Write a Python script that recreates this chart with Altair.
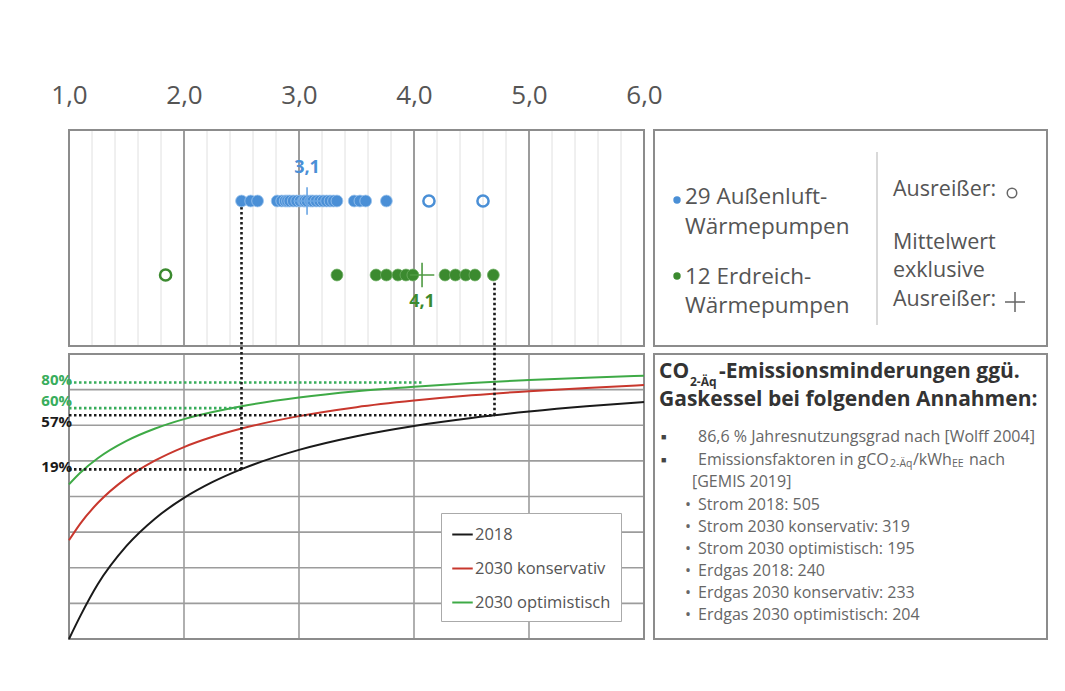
import altair as alt
import pandas as pd

# ---------------- data ----------------
cop_ticks = [1.0, 2.0, 3.0, 4.0, 5.0, 6.0]
inner_ticks = [2.0, 3.0, 4.0, 5.0]
minor_ticks = [1.2, 1.4, 1.6, 1.8, 2.2, 2.4, 2.6, 2.8, 3.2, 3.4, 3.6, 3.8,
               4.2, 4.4, 4.6, 4.8, 5.2, 5.4, 5.6, 5.8]
pct_grid = [-75, -50, -25, 0, 25, 50, 75]

air_cop = [2.50, 2.58, 2.64, 2.81, 2.85, 2.88, 2.90, 2.92, 2.95, 2.98, 3.01, 3.04,
           3.05, 3.07, 3.10, 3.12, 3.15, 3.18, 3.21, 3.24, 3.27, 3.30, 3.33,
           3.48, 3.53, 3.58, 3.76]
air_outliers = [4.13, 4.60]
ground_cop = [3.33, 3.67, 3.76, 3.86, 3.93, 3.99, 4.27, 4.36, 4.45, 4.53, 4.69]
ground_outliers = [1.84]
mean_cop = [3.07, 4.07]
mean_labels = ["3,1", "4,1"]

curve_cop = [1.0, 1.1, 1.25, 1.5, 1.75, 2.0, 2.25, 2.5, 3.0, 3.5, 4.0, 4.5, 5.0, 5.5, 6.0]
curve_2018 = [-100.0, -83.6, -61.6, -34.7, -15.4, -1.0, 10.2, 19.2, 32.7, 42.3, 49.5,
              55.1, 59.6, 63.3, 66.3]
curve_2030k = [-30.7, -18.8, -4.6, 12.9, 25.3, 34.7, 41.9, 47.7, 56.4, 62.7, 67.3,
               71.0, 73.9, 76.2, 78.2]
curve_2030o = [8.5, 16.8, 26.8, 39.0, 47.7, 54.3, 59.3, 63.4, 69.5, 73.9, 77.1,
               79.7, 81.7, 83.4, 84.8]
series_names = ["2018", "2030 konservativ", "2030 optimistisch"]

level_pct = [80, 62, 57, 19]
level_cop = [4.07, 2.50, 4.70, 2.50]
level_labels = ["80%", "60%", "57%", "19%"]
link_cop = [2.50, 4.70]
link_pct = [19, 57]

legend_left_lines = ["29 Außenluft-", "Wärmepumpen", "12 Erdreich-", "Wärmepumpen"]
legend_right_lines = ["Ausreißer:", "Mittelwert", "exklusive", "Ausreißer:"]
title_line2 = "Gaskessel bei folgenden Annahmen:"
bullet1 = "86,6 % Jahresnutzungsgrad nach [Wolff 2004]"
bullet2_parts = ["Emissionsfaktoren in gCO", "2-Äq", "/kWh", "EE", "nach"]
bullet2_cont = "[GEMIS 2019]"
factor_lines = ["Strom 2018: 505", "Strom 2030 konservativ: 319",
                "Strom 2030 optimistisch: 195", "Erdgas 2018: 240",
                "Erdgas 2030 konservativ: 233", "Erdgas 2030 optimistisch: 204"]

# ---------------- styles ----------------
FONT = "Open Sans"
BLUE = "#4a8fd6"
BLUE_MEAN = "#6aa6e4"
GREEN_PT = "#3b8a2f"
GREEN_MEAN = "#4f9a43"
GREEN_LINE = "#3eaa46"
GREEN_LBL = "#38ad5c"
RED = "#c8372d"
BLACK = "#1a1a1a"
GRID = "#9c9c9c"
MINOR = "#e0e0e0"
FRAME = "#8c8c8c"
TXT = "#555555"

W_LEFT, H_ALL = 575, 509
W_RIGHT, H_TOP, H_BOT, GAP = 393, 216, 285, 8

# unified y coordinate: bottom panel is -100..100 %, top panel sits above
PX_PER_UNIT = H_BOT / 200.0
TOP_LO = 100 + GAP / PX_PER_UNIT
TOP_HI = TOP_LO + H_TOP / PX_PER_UNIT
ROW_AIR = TOP_LO + 145 / PX_PER_UNIT
ROW_GROUND = TOP_LO + 71 / PX_PER_UNIT
LBL_AIR = TOP_LO + 178 / PX_PER_UNIT
LBL_GROUND = TOP_LO + 44 / PX_PER_UNIT

xscale = alt.Scale(domain=[1, 6], nice=False, zero=False)
yscale = alt.Scale(domain=[-100, TOP_HI], nice=False, zero=False)
xaxis = alt.Axis(orient="top", values=cop_ticks,
                 labelExpr="replace(format(datum.value, '.1f'), '.', ',')",
                 labelFontSize=26, labelColor=TXT, labelFont=FONT,
                 domain=False, ticks=False, grid=False, labelPadding=22,
                 labelFlush=False, title=None)


def X(f):
    return alt.X(f, type="quantitative", scale=xscale, axis=xaxis)


def Y(f):
    return alt.Y(f, type="quantitative", scale=yscale, axis=None)


# ---------------- left chart ----------------
minor_df = pd.DataFrame({"x": minor_ticks, "y": TOP_LO, "y2": TOP_HI})
major_top_df = pd.DataFrame({"x": inner_ticks, "y": TOP_LO, "y2": TOP_HI})
major_bot_df = pd.DataFrame({"x": inner_ticks, "y": -100.0, "y2": 100.0})
hgrid_df = pd.DataFrame({"y": pct_grid, "x": 1.0, "x2": 6.0})
frames_df = pd.DataFrame({"x": [1.0, 1.0], "x2": [6.0, 6.0],
                          "y": [TOP_LO, -100.0], "y2": [TOP_HI, 100.0]})

minor = alt.Chart(minor_df).mark_rule(color=MINOR, strokeWidth=1).encode(
    x=X("x"), y=Y("y"), y2="y2")
major_top = alt.Chart(major_top_df).mark_rule(color=GRID, strokeWidth=2).encode(
    x=X("x"), y=Y("y"), y2="y2")
major_bot = alt.Chart(major_bot_df).mark_rule(color=GRID, strokeWidth=1.6).encode(
    x=X("x"), y=Y("y"), y2="y2")
hgrid = alt.Chart(hgrid_df).mark_rule(color=GRID, strokeWidth=1.6).encode(
    x=X("x"), x2="x2", y=Y("y"))
frames = alt.Chart(frames_df).mark_rect(filled=False, stroke=FRAME, strokeWidth=2).encode(
    x=X("x"), x2="x2", y=Y("y"), y2="y2")

curve_rows = []
for name, vals in zip(series_names, [curve_2018, curve_2030k, curve_2030o]):
    for c, v in zip(curve_cop, vals):
        curve_rows.append({"cop": c, "pct": v, "series": name})
curve_df = pd.DataFrame(curve_rows)

curves = alt.Chart(curve_df).mark_line(strokeWidth=2, interpolate="monotone").encode(
    x=X("cop"),
    y=Y("pct"),
    color=alt.Color("series:N",
                    scale=alt.Scale(domain=series_names, range=[BLACK, RED, GREEN_LINE]),
                    legend=alt.Legend(title=None, orient="none", legendX=372, legendY=383,
                                      symbolType="stroke", symbolSize=420,
                                      symbolStrokeWidth=2, labelFontSize=16.5,
                                      labelColor=TXT, labelFont=FONT, fillColor="white",
                                      strokeColor="#aaaaaa", padding=10, rowPadding=14,
                                      labelOffset=1, labelLimit=300)),
    order="cop:Q",
)

lev_df = pd.DataFrame({"x": 1.0, "x2": level_cop, "y": level_pct, "label": level_labels,
                       "col": [GREEN_LBL, GREEN_LBL, BLACK, BLACK]})
lev_lines = []
lev_texts = []
label_dy = [-3, -7, 7, -2]
for i in range(len(level_labels)):
    sub = lev_df.iloc[[i]]
    col = sub["col"].iloc[0]
    lev_lines.append(alt.Chart(sub).mark_rule(
        color=col, strokeWidth=2.6, strokeDash=[2.5, 2.5]).encode(
        x=X("x"), x2="x2", y=Y("y")))
    lev_texts.append(alt.Chart(sub).mark_text(
        align="right", baseline="middle", dx=3, dy=label_dy[i], font=FONT, fontSize=15,
        fontWeight="bold", color=col).encode(x=X("x"), y=Y("y"), text="label:N"))

link_df = pd.DataFrame({"x": link_cop, "y": link_pct, "y2": [ROW_AIR, ROW_GROUND]})
links = alt.Chart(link_df).mark_rule(color=BLACK, strokeWidth=2.6,
                                     strokeDash=[2.5, 2.5]).encode(
    x=X("x"), y=Y("y"), y2="y2")

air_df = pd.DataFrame({"cop": air_cop, "row": ROW_AIR})
air_out_df = pd.DataFrame({"cop": air_outliers, "row": ROW_AIR})
gr_df = pd.DataFrame({"cop": ground_cop, "row": ROW_GROUND})
gr_out_df = pd.DataFrame({"cop": ground_outliers, "row": ROW_GROUND})

air_pts = alt.Chart(air_df).mark_circle(size=140, color=BLUE, opacity=1,
                                        stroke="#9cc4ee", strokeWidth=0.8).encode(
    x=X("cop"), y=Y("row"))
air_out = alt.Chart(air_out_df).mark_point(shape="circle", filled=False, size=125,
                                           strokeWidth=2.5, color=BLUE, opacity=1).encode(
    x=X("cop"), y=Y("row"))
gr_pts = alt.Chart(gr_df).mark_circle(size=140, color=GREEN_PT, opacity=1,
                                      stroke="#6fae63", strokeWidth=0.8).encode(
    x=X("cop"), y=Y("row"))
gr_out = alt.Chart(gr_out_df).mark_point(shape="circle", filled=False, size=125,
                                         strokeWidth=2.5, color=GREEN_PT, opacity=1).encode(
    x=X("cop"), y=Y("row"))

PLUS = "M-1,0L1,0M0,-1L0,1"
mean_df = pd.DataFrame({"cop": mean_cop, "row": [ROW_AIR, ROW_GROUND],
                        "lrow": [LBL_AIR, LBL_GROUND], "label": mean_labels})
mean_air = alt.Chart(mean_df.iloc[[0]]).mark_point(shape=PLUS, size=750, filled=False,
                                                   strokeWidth=1.6, color=BLUE_MEAN,
                                                   opacity=1).encode(
    x=X("cop"), y=Y("row"))
mean_gr = alt.Chart(mean_df.iloc[[1]]).mark_point(shape=PLUS, size=600, filled=False,
                                                  strokeWidth=1.6, color=GREEN_MEAN,
                                                  opacity=1).encode(
    x=X("cop"), y=Y("row"))
mean_txt_air = alt.Chart(mean_df.iloc[[0]]).mark_text(
    font=FONT, fontSize=18, fontWeight="bold", color=BLUE, baseline="middle").encode(
    x=X("cop"), y=Y("lrow"), text="label:N")
mean_txt_gr = alt.Chart(mean_df.iloc[[1]]).mark_text(
    font=FONT, fontSize=18, fontWeight="bold", color=GREEN_PT, baseline="middle").encode(
    x=X("cop"), y=Y("lrow"), text="label:N")

left = alt.layer(
    minor, major_top, major_bot, hgrid, frames, curves,
    *lev_lines, links, air_pts, air_out, gr_pts, gr_out,
    mean_air, mean_gr, mean_txt_air, mean_txt_gr, *lev_texts,
).properties(width=W_LEFT, height=H_ALL, view=alt.ViewBackground(strokeWidth=0))

# ---------------- right charts ----------------
dummy = pd.DataFrame({"d": [0]})


def txt(s, x, y, size, color=TXT, weight="normal"):
    return alt.Chart(dummy).mark_text(
        text=s, align="left", baseline="middle", font=FONT, fontSize=size,
        fontWeight=weight, color=color).encode(x=alt.value(x), y=alt.value(y))


def dot(x, y, color, filled=True, size=55, shape="circle", sw=1.5):
    return alt.Chart(dummy).mark_point(
        shape=shape, filled=filled, size=size, color=color, opacity=1,
        strokeWidth=sw).encode(x=alt.value(x), y=alt.value(y))


rt_layers = [
    dot(23, 70, BLUE), dot(23, 146, GREEN_PT),
    txt(legend_left_lines[0], 31, 67, 22.5),
    txt(legend_left_lines[1], 31, 97, 22.5),
    txt(legend_left_lines[2], 31, 147, 22.5),
    txt(legend_left_lines[3], 31, 176, 22.5),
    alt.Chart(dummy).mark_rule(color="#cccccc", strokeWidth=1.5).encode(
        x=alt.value(223), y=alt.value(22), y2=alt.value(195)),
    txt(legend_right_lines[0], 239, 60, 21.5),
    txt(legend_right_lines[1], 239, 113, 21.5),
    txt(legend_right_lines[2], 239, 141, 21.5),
    txt(legend_right_lines[3], 239, 170, 21.5),
    dot(358, 63, "#666666", filled=False, size=90, sw=1.5),
    dot(361, 172, "#666666", filled=False, size=400, shape=PLUS, sw=1.5),
]
right_top = alt.layer(*rt_layers).properties(
    width=W_RIGHT, height=H_TOP,
    view=alt.ViewBackground(stroke=FRAME, strokeWidth=2))

DARK = "#333333"
GRAYTXT = "#666666"
LT = 16
TT = 21
rb_layers = [
    txt("CO", 5, 18, TT, DARK, "bold"),
    txt("2-Äq", 36, 28, 12, DARK, "bold"),
    txt("-Emissionsminderungen ggü.", 65, 18, TT, DARK, "bold"),
    txt(title_line2, 5, 46, TT, DARK, "bold"),
    txt("■", 7, 83, 9, "#444444"),
    txt(bullet1, 44, 83, LT, GRAYTXT),
    txt("■", 7, 106, 9, "#444444"),
    txt(bullet2_parts[0], 44, 106, LT, GRAYTXT),
    txt(bullet2_parts[1], 236, 110, 10.5, GRAYTXT),
    txt(bullet2_parts[2], 259, 106, LT, GRAYTXT),
    txt(bullet2_parts[3], 298, 110, 10.5, GRAYTXT),
    txt(bullet2_parts[4], 315, 106, LT, GRAYTXT),
    txt(bullet2_cont, 38, 128, LT, GRAYTXT),
]
for i, line in enumerate(factor_lines):
    yy = 151 + i * 22
    rb_layers.append(txt("•", 31, yy, LT, GRAYTXT))
    rb_layers.append(txt(line, 44, yy, LT, GRAYTXT))
right_bot = alt.layer(*rb_layers).properties(
    width=W_RIGHT, height=H_BOT,
    view=alt.ViewBackground(stroke=FRAME, strokeWidth=2))

right = alt.vconcat(right_top, right_bot, spacing=GAP, bounds="flush")

chart = alt.hconcat(left, right, spacing=10, bounds="flush").properties(
    padding={"left": 33, "top": 74, "right": 5, "bottom": 5},
    background="white",
).configure_view(strokeWidth=0)

chart.save("out.html", embed_options={"renderer": "svg", "actions": False})
